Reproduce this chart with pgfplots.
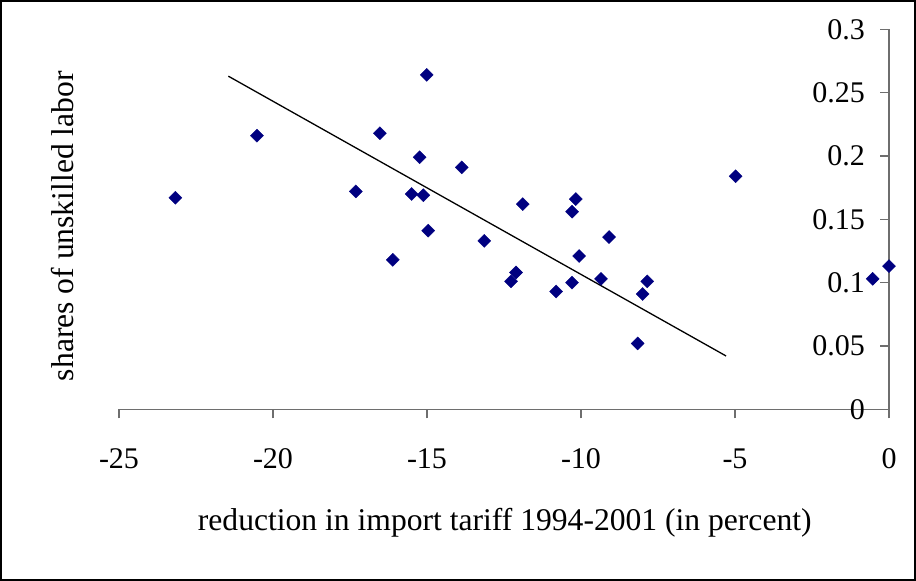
\documentclass[border=0pt]{standalone}
\usepackage{fontspec}
\setmainfont{Liberation Serif}
\usepackage{pgfplots}
\pgfplotsset{compat=1.18}
\definecolor{marknavy}{RGB}{0,0,128}
\definecolor{axisgray}{RGB}{110,110,110}
\begin{document}
\begin{tikzpicture}
\begin{axis}[
    name=ax,
    scale only axis,
    width=770pt, height=380pt,
    xmin=-25, xmax=0, ymin=0, ymax=0.3,
    axis x line=bottom, axis y line=right,
    axis line style={-, draw=axisgray, line width=1.3pt},
    clip=false,
    xtick={-25,-20,-15,-10,-5,0},
    xticklabels={-25,-20,-15,-10,-5,0},
    ytick={0,0.05,0.1,0.15,0.2,0.25,0.3},
    yticklabels={0,0.05,0.1,0.15,0.2,0.25,0.3},
    tick align=center,
    major tick length=9pt,
    every tick/.style={draw=axisgray, line width=1.3pt},
    xtick style={yshift=-4.5pt},
    ytick style={xshift=-4.5pt},
    ticklabel style={font=\fontsize{30}{36}\selectfont},
    xticklabel style={anchor=center, yshift=-45pt},
    yticklabel style={anchor=east, xshift=-25pt},
    xlabel={reduction in import tariff 1994-2001 (in percent)},
    ylabel={shares of unskilled labor},
    label style={font=\fontsize{31.6}{38}\selectfont},
    xlabel style={at={(axis description cs:0.501,-0.299)}, anchor=center},
    ylabel style={at={(axis description cs:-0.0727,0.482)}, anchor=center},
]
\addplot[only marks, mark=square*, mark size=4.6pt,
    mark options={rotate=45, fill=marknavy, draw=marknavy}]
  coordinates {
    (-23.17,0.167) (-20.52,0.216) (-17.31,0.172) (-16.53,0.218)
    (-16.11,0.118) (-15.50,0.170) (-15.24,0.199) (-15.12,0.169)
    (-15.01,0.264) (-14.96,0.141) (-13.87,0.191) (-13.14,0.133)
    (-12.27,0.101) (-12.11,0.108) (-11.89,0.162) (-10.81,0.093)
    (-10.29,0.156) (-10.29,0.100) (-10.17,0.166) (-10.06,0.121)
    (-9.35,0.103) (-9.09,0.136) (-8.16,0.052) (-8.00,0.091)
    (-7.85,0.101) (-4.98,0.184) (-0.53,0.103) (0.00,0.113)
  };
% linear trend line
\addplot[black, line width=1.3pt, mark=none]
  coordinates {(-21.45,0.263) (-5.29,0.0421)};
\end{axis}
% outer chart frame
\draw[black, line width=2pt]
  ([shift={(-118pt,-170.7pt)}]ax.south west) rectangle
  ([shift={(796pt,408.3pt)}]ax.south west);
\end{tikzpicture}
\end{document}
